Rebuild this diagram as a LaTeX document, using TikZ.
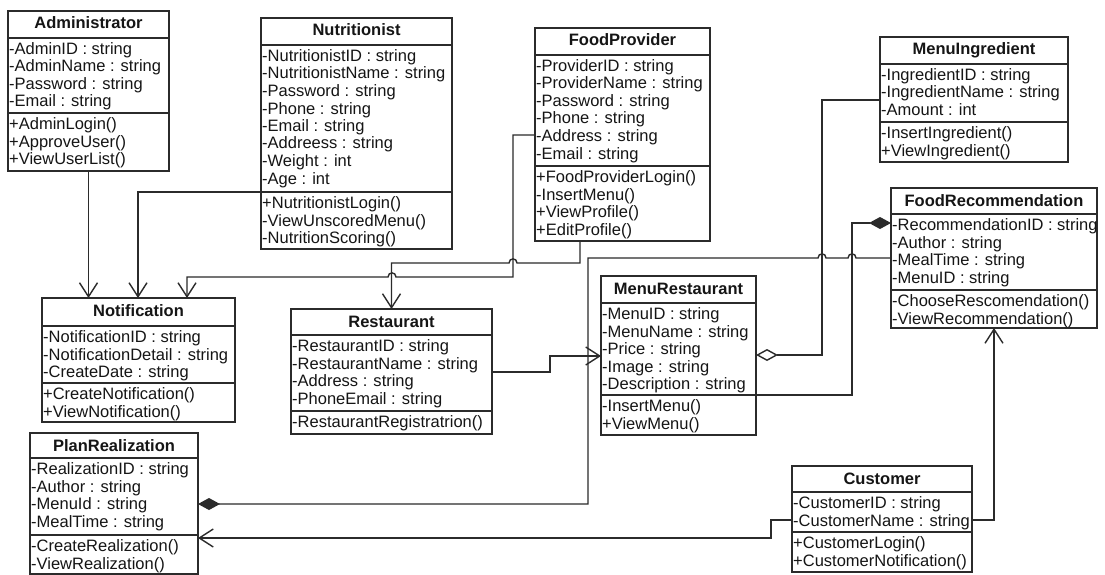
\documentclass[tikz,border=0pt]{standalone}
\usepackage{fontspec}
\setmainfont{Liberation Sans}
\usetikzlibrary{arrows.meta,calc}
\definecolor{linec}{HTML}{2B2B2B}
\definecolor{textc}{HTML}{151515}
\tikzset{
  umlframe/.style={draw=linec, line width=1.4pt, fill=white, inner sep=0pt, outer sep=0pt},
  sepline/.style={draw=linec, line width=1.4pt},
  titletext/.style={font=\fontsize{16.5}{18}\selectfont\bfseries, text=textc, inner sep=0pt, anchor=base},
  rowtext/.style={font=\fontsize{16.5}{18}\selectfont, text=textc, inner sep=0pt, anchor=base west},
  conn/.style={draw=linec, line width=1.4pt},
  assoc/.style={conn, -{Straight Barb[length=14pt,width=18pt]}},
  compo/.style={conn, {Diamond[length=22pt,width=12pt]}-},
  aggr/.style={conn, {Diamond[open,length=22pt,width=12pt,fill=white]}-},
}
% #1 name, #2 left, #3 top, #4 right, #5 title sep, #6 attr sep, #7 bottom, #8 title
\newcommand{\umlclass}[8]{%
  \pgfmathsetmacro{\umlw}{#4-#2}\pgfmathsetmacro{\umlh}{#7-#3}%
  \node[umlframe, minimum width=\umlw pt, minimum height=\umlh pt, anchor=north west] (#1) at (#2,#3) {};
  \draw[sepline] (#2,#5) -- (#4,#5);
  \draw[sepline] (#2,#6) -- (#4,#6);
  \node[titletext] (#1-title) at ({(#2+#4)/2},#3+18) {#8};
}
% #1 prefix, #2 left, #3 start y, #4 list
\newcommand{\umlrows}[4]{%
  \foreach \rowtxt [count=\i from 0] in {#4}
    \node[rowtext] (#1-\i) at (#2+1, #3+16.5+\i*17.5) {\rowtxt};
}
\begin{document}
\begin{tikzpicture}[x=1pt,y=-1pt]
\useasboundingbox (0,0) rectangle (1105,575);
\fill[white] (0,0) rectangle (1105,575);

% Administrator
\umlclass{admin}{8}{11}{169}{38}{113}{171}{Administrator}
\umlrows{admin-a}{8}{38}{-AdminID : string,-AdminName : string,-Password : string,-Email : string}
\umlrows{admin-m}{8}{113}{+AdminLogin(),+ApproveUser(),+ViewUserList()}

% Nutritionist
\umlclass{nutri}{261}{18}{452}{45}{192}{249}{Nutritionist}
\umlrows{nutri-a}{261}{45}{-NutritionistID : string,-NutritionistName : string,-Password : string,-Phone : string,-Email : string,-Addreess : string,-Weight : int,-Age : int}
\umlrows{nutri-m}{261}{192}{+NutritionistLogin(),-ViewUnscoredMenu(),-NutritionScoring()}

% FoodProvider
\umlclass{fp}{535}{28}{710}{55}{166}{241}{FoodProvider}
\umlrows{fp-a}{535}{55}{-ProviderID : string,-ProviderName : string,-Password : string,-Phone : string,-Address : string,-Email : string}
\umlrows{fp-m}{535}{166}{+FoodProviderLogin(),-InsertMenu(),+ViewProfile(),+EditProfile()}

% MenuIngredient
\umlclass{ingr}{880}{37}{1068}{64}{122}{162}{MenuIngredient}
\umlrows{ingr-a}{880}{64}{-IngredientID : string,-IngredientName : string,-Amount : int}
\umlrows{ingr-m}{880}{122}{-InsertIngredient(),+ViewIngredient()}

% FoodRecommendation
\umlclass{rec}{891}{188}{1097}{214}{290}{328}{FoodRecommendation}
\umlrows{rec-a}{891}{214}{-RecommendationID : string,-Author : string,-MealTime : string,-MenuID : string}
\umlrows{rec-m}{891}{290}{-ChooseRescomendation(),-ViewRecommendation()}

% Notification
\umlclass{notif}{42}{298}{235}{326}{383}{422}{Notification}
\umlrows{notif-a}{42}{326}{-NotificationID : string,-NotificationDetail : string,-CreateDate : string}
\umlrows{notif-m}{42}{383}{+CreateNotification(),+ViewNotification()}

% Restaurant
\umlclass{rest}{291}{309}{492}{335}{411}{434}{Restaurant}
\umlrows{rest-a}{291}{335}{-RestaurantID : string,-RestaurantName : string,-Address : string,-PhoneEmail : string}
\umlrows{rest-m}{291}{411}{-RestaurantRegistratrion()}

% MenuRestaurant
\umlclass{menu}{601}{276}{756}{303}{395}{435}{MenuRestaurant}
\umlrows{menu-a}{601}{303}{-MenuID : string,-MenuName : string,-Price : string,-Image : string,-Description : string}
\umlrows{menu-m}{601}{395}{-InsertMenu(),+ViewMenu()}

% PlanRealization
\umlclass{plan}{30}{433}{198}{458}{535}{574}{PlanRealization}
\umlrows{plan-a}{30}{458}{-RealizationID : string,-Author : string,-MenuId : string,-MealTime : string}
\umlrows{plan-m}{30}{535}{-CreateRealization(),-ViewRealization()}

% Customer
\umlclass{cust}{792}{466}{972}{492}{532}{572}{Customer}
\umlrows{cust-a}{792}{492}{-CustomerID : string,-CustomerName : string}
\umlrows{cust-m}{792}{532}{+CustomerLogin(),+CustomerNotification()}

% ---------- connectors ----------
\draw[assoc] (admin.south) -- (admin.south |- notif.north);
\draw[assoc] (nutri.west |- 0,192) -| ([xshift=96pt]notif.north west);
\draw[assoc] (fp.west |- 0,135) -- (513,135) -- (513,277) -- (396,277)
  .. controls (396,271.5) and (388,271.5) .. (388,277) -- (187,277) -- ([xshift=145pt]notif.north west);
\draw[assoc] ([xshift=45pt]fp.south west) -- (580,263) -- (517,263)
  .. controls (517,257.5) and (509,257.5) .. (509,263) -- (rest.north |- 0,263) -- (rest.north);
\draw[assoc] (rest.east |- 0,372) -- (550,372) -- (550,356) -- (menu.west |- 0,356);
\draw[compo] (plan.east |- 0,504) -- (588,504) -- (588,258) -- (818,258)
  .. controls (818,252.5) and (826,252.5) .. (826,258) -- (848,258)
  .. controls (848,252.5) and (856,252.5) .. (856,258) -- (rec.west |- 0,258);
\draw[aggr] (menu.east |- 0,355) -- (822,355) -- (822,100) -- (ingr.west |- 0,100);
\draw[compo] (rec.west |- 0,223) -- (852,223) -- (852,395) -- (menu.east |- 0,395);
\draw[assoc] (cust.west |- 0,520) -- (771,520) -- (771,538) -- (plan.east |- 0,538);
\draw[assoc] (cust.east |- 0,520) -| (rec.south);
\end{tikzpicture}
\end{document}
